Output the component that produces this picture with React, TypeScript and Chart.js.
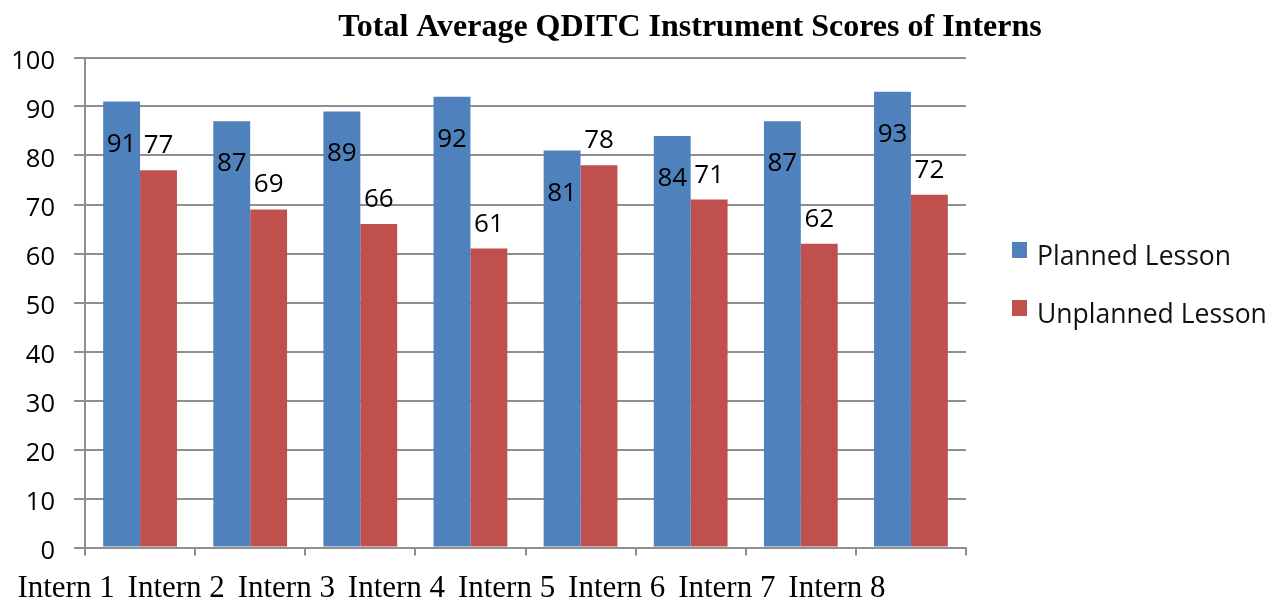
import { useEffect, useRef } from "react";
import { Chart, registerables } from "chart.js";

Chart.register(...registerables);

const chartTitle = "Total Average QDITC Instrument Scores of Interns";
const categories = ["Intern 1", "Intern 2", "Intern 3", "Intern 4", "Intern 5", "Intern 6", "Intern 7", "Intern 8"];
const plannedScores = [91, 87, 89, 92, 81, 84, 87, 93];
const unplannedScores = [77, 69, 66, 61, 78, 71, 62, 72];
const seriesNames = ["Planned Lesson", "Unplanned Lesson"];
const seriesColors = ["#4F81BD", "#C0504D"];
const yMin = 0;
const yMax = 100;
const yStep = 10;

const SANS = '"Open Sans", "Noto Sans", sans-serif';
const SERIF = '"Liberation Serif", "DejaVu Serif", serif';

const valueLabelPlugin = {
  id: "valueLabels",
  afterDatasetsDraw(chart: any) {
    const ctx = chart.ctx;
    ctx.save();
    ctx.font = `26px ${SANS}`;
    ctx.fillStyle = "#000";
    ctx.textAlign = "center";
    ctx.textBaseline = "alphabetic";
    chart.data.datasets.forEach((ds: any, di: number) => {
      const meta = chart.getDatasetMeta(di);
      meta.data.forEach((bar: any, i: number) => {
        const dy = di === 0 ? 50 : -17;
        ctx.fillText(String(ds.data[i]), bar.x, bar.y + dy);
      });
    });
    ctx.restore();
  },
};

const titleLegendPlugin = {
  id: "titleLegend",
  afterDraw(chart: any) {
    const ctx = chart.ctx;
    ctx.save();
    ctx.font = `bold 32px ${SERIF}`;
    ctx.fillStyle = "#000";
    ctx.textAlign = "center";
    ctx.textBaseline = "alphabetic";
    ctx.fillText(chartTitle, 690, 36);
    ctx.font = `26.5px ${SANS}`;
    ctx.textAlign = "left";
    chart.data.datasets.forEach((ds: any, di: number) => {
      const top = 242 + di * 58;
      ctx.fillStyle = ds.backgroundColor;
      ctx.fillRect(1012, top, 15, 16);
      ctx.fillStyle = "#111";
      ctx.fillText(ds.label, 1037, top + 23);
    });
    ctx.restore();
  },
};

export default function App() {
  const canvasRef = useRef<HTMLCanvasElement | null>(null);

  useEffect(() => {
    if (!canvasRef.current) return;
    const gridColor = "#8f8f8f";
    const chart = new Chart(canvasRef.current, {
      type: "bar",
      data: {
        labels: categories,
        datasets: [
          {
            label: seriesNames[0],
            data: plannedScores,
            backgroundColor: seriesColors[0],
            borderWidth: 0,
            barPercentage: 1,
            categoryPercentage: 0.67,
          },
          {
            label: seriesNames[1],
            data: unplannedScores,
            backgroundColor: seriesColors[1],
            borderWidth: 0,
            barPercentage: 1,
            categoryPercentage: 0.67,
          },
        ],
      },
      options: {
        responsive: true,
        maintainAspectRatio: false,
        animation: false,
        layout: { padding: { top: 57.5, right: 303, left: 0, bottom: 0 } },
        plugins: {
          legend: { display: false },
          title: { display: false },
          tooltip: { enabled: false },
        },
        scales: {
          x: {
            afterFit: (s: any) => {
              s.height = 54.5;
            },
            grid: {
              drawOnChartArea: false,
              drawTicks: true,
              tickLength: 8,
              color: gridColor,
              lineWidth: 2,
            },
            border: { color: gridColor, width: 2 },
            ticks: {
              font: { family: SERIF, size: 31 },
              color: "#000",
              labelOffset: -74,
              padding: 15,
              maxRotation: 0,
              autoSkip: false,
            },
          },
          y: {
            min: yMin,
            max: yMax,
            afterFit: (s: any) => {
              s.width = 85;
            },
            grid: {
              color: gridColor,
              lineWidth: 2,
              drawTicks: true,
              tickLength: 11,
            },
            border: { color: gridColor, width: 2 },
            ticks: {
              stepSize: yStep,
              font: { family: SANS, size: 25.5 },
              color: "#000",
              padding: 19,
              labelOffset: 4,
            },
          },
        },
      },
      plugins: [valueLabelPlugin, titleLegendPlugin],
    });
    return () => chart.destroy();
  }, []);

  return (
    <div style={{ position: "fixed", left: 0, top: 0, width: 1269, height: 602, background: "#fff" }}>
      <canvas ref={canvasRef} />
    </div>
  );
}
